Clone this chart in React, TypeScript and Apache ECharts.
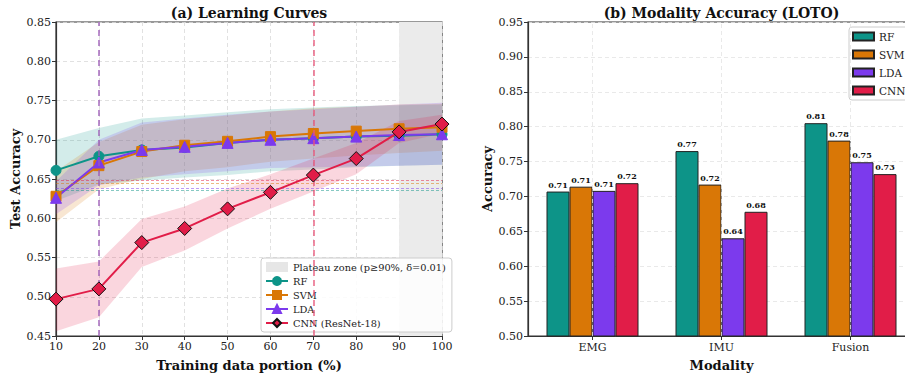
import React, { useEffect, useRef } from "react";
import * as echarts from "echarts";

const portions = ["10", "20", "30", "40", "50", "60", "70", "80", "90", "100"];
const rfMean = [0.661, 0.679, 0.687, 0.690, 0.696, 0.700, 0.702, 0.704, 0.705, 0.707];
const svmMean = [0.628, 0.667, 0.685, 0.693, 0.698, 0.704, 0.708, 0.711, 0.714, 0.716];
const ldaMean = [0.626, 0.671, 0.687, 0.691, 0.696, 0.700, 0.702, 0.704, 0.706, 0.707];
const cnnMean = [0.497, 0.510, 0.569, 0.587, 0.612, 0.633, 0.655, 0.676, 0.710, 0.720];

const rfLow = [0.622, 0.643, 0.648, 0.652, 0.655, 0.660, 0.662, 0.665, 0.667, 0.668];
const rfHigh = [0.700, 0.715, 0.727, 0.731, 0.735, 0.739, 0.741, 0.743, 0.744, 0.745];
const svmLow = [0.595, 0.637, 0.650, 0.660, 0.665, 0.672, 0.676, 0.680, 0.683, 0.686];
const svmHigh = [0.660, 0.697, 0.719, 0.726, 0.731, 0.736, 0.740, 0.742, 0.745, 0.746];
const ldaLow = [0.605, 0.642, 0.652, 0.656, 0.660, 0.664, 0.665, 0.666, 0.667, 0.668];
const ldaHigh = [0.647, 0.700, 0.722, 0.727, 0.732, 0.736, 0.739, 0.742, 0.745, 0.747];
const cnnLow = [0.456, 0.474, 0.538, 0.559, 0.587, 0.612, 0.634, 0.656, 0.696, 0.708];
const cnnHigh = [0.536, 0.545, 0.599, 0.615, 0.638, 0.656, 0.676, 0.696, 0.724, 0.732];

const thresholds = [0.636, 0.644, 0.638, 0.648]; // RF, SVM, LDA, CNN
const kneeLines = ["20", "70"];
const plateauRange = ["90", "100"];

const modalities = ["EMG", "IMU", "Fusion"];
const rfAcc = [0.707, 0.765, 0.805];
const svmAcc = [0.714, 0.717, 0.780];
const ldaAcc = [0.708, 0.640, 0.749];
const cnnAcc = [0.719, 0.678, 0.732];

const C_RF = "#0d9488";
const C_SVM = "#d97706";
const C_LDA = "#7c3aed";
const C_CNN = "#e11d48";
const FONT = "DejaVu Serif";
const PLATEAU = "Plateau zone (p≥90%, δ=0.01)";

const gridLine = { show: true, lineStyle: { color: "#d9d9d9", type: [4, 3] as any, width: 0.8 } };

function bandSeries(key: string, low: number[], high: number[], color: string) {
  return [
    {
      name: key + "_low",
      type: "line",
      stack: key,
      data: low,
      symbol: "none",
      lineStyle: { opacity: 0 },
      silent: true,
      z: 1,
    },
    {
      name: key + "_band",
      type: "line",
      stack: key,
      data: high.map((h, i) => +(h - low[i]).toFixed(4)),
      symbol: "none",
      lineStyle: { opacity: 0 },
      areaStyle: { color, opacity: 0.18 },
      silent: true,
      z: 1,
    },
  ];
}

function mainLine(name: string, data: number[], color: string, symbol: string, size: number, extra: any = {}) {
  return {
    name,
    type: "line",
    data,
    symbol,
    symbolSize: size,
    lineStyle: { color, width: 2 },
    itemStyle: { color, borderColor: color, borderWidth: 1 },
    z: 4,
    ...extra,
  };
}

const thrColors = [C_RF, C_SVM, C_LDA, C_CNN];

function LeftChart() {
  const ref = useRef<HTMLDivElement>(null);
  useEffect(() => {
    const chart = echarts.init(ref.current!, undefined, { renderer: "svg" });
    const first = portions[0];
    const last = portions[portions.length - 1];
    chart.setOption({
      animation: false,
      textStyle: { fontFamily: FONT },
      graphic: [
        {
          type: "text",
          x: 249,
          y: 13,
          style: {
            text: "(a) Learning Curves",
            textAlign: "center",
            textVerticalAlign: "middle",
            align: "center",
            verticalAlign: "middle",
            font: `bold 14px "${FONT}"`,
            fill: "#111",
          },
        },
      ],
      grid: {
        left: 56, width: 386, top: 22, height: 314, show: true, borderColor: "#333", borderWidth: 1.2,
        backgroundColor: "#fff", containLabel: false, outerBoundsMode: "none",
      },
      legend: {
        left: 261,
        top: 258,
        orient: "vertical",
        itemWidth: 22,
        itemHeight: 10,
        itemGap: 4,
        padding: [4, 6, 4, 4],
        backgroundColor: "rgba(255,255,255,0.85)",
        borderColor: "#cccccc",
        borderWidth: 1,
        borderRadius: 3,
        textStyle: { fontFamily: FONT, fontSize: 9.8, color: "#222" },
        data: [
          { name: PLATEAU, icon: "rect", itemStyle: { color: "#e6e6e6" } },
          "RF",
          "SVM",
          "LDA",
          "CNN (ResNet-18)",
        ],
      },
      xAxis: {
        type: "category",
        data: portions,
        boundaryGap: false,
        name: "Training data portion (%)",
        nameLocation: "middle",
        nameGap: 23,
        nameMoveOverlap: false,
        nameTextStyle: { fontFamily: FONT, fontSize: 13, fontWeight: "bold", color: "#111" },
        axisLine: { lineStyle: { color: "#333", width: 1.2 } },
        axisTick: { show: true, length: 4, lineStyle: { color: "#333" } },
        axisLabel: { fontFamily: FONT, fontSize: 11, color: "#222", margin: 5 },
        splitLine: gridLine,
      },
      yAxis: {
        type: "value",
        min: 0.45,
        max: 0.85,
        interval: 0.05,
        name: "Test Accuracy",
        nameLocation: "middle",
        nameGap: 34,
        nameMoveOverlap: false,
        nameTextStyle: { fontFamily: FONT, fontSize: 13, fontWeight: "bold", color: "#111" },
        axisLine: { show: true, lineStyle: { color: "#333", width: 1.2 } },
        axisTick: { show: true, length: 4, lineStyle: { color: "#333" } },
        axisLabel: { fontFamily: FONT, fontSize: 11, color: "#222", margin: 5, formatter: (v: number) => v.toFixed(2) },
        splitLine: gridLine,
      },
      series: [
        {
          name: PLATEAU,
          type: "line",
          data: portions.map(() => null),
          itemStyle: { color: "#e6e6e6" },
          symbol: "none",
          silent: true,
          z: 0,
          markArea: {
            silent: true,
            itemStyle: { color: "#ebebeb" },
            data: [[{ xAxis: plateauRange[0], yAxis: 0.45 }, { xAxis: plateauRange[1], yAxis: 0.85 }]],
          },
        },
        ...bandSeries("rf", rfLow, rfHigh, C_RF),
        ...bandSeries("svm", svmLow, svmHigh, C_SVM),
        ...bandSeries("lda", ldaLow, ldaHigh, C_LDA),
        ...bandSeries("cnn", cnnLow, cnnHigh, C_CNN),
        {
          name: "refLines",
          type: "line",
          data: portions.map(() => null),
          symbol: "none",
          silent: true,
          z: 2,
          markLine: {
            silent: true,
            symbol: "none",
            label: { show: false },
            data: [
              ...thresholds.map((t, i) => [
                { xAxis: first, yAxis: t, lineStyle: { color: thrColors[i], type: [3, 2], width: 1, opacity: 0.5 } },
                { xAxis: last, yAxis: t },
              ]),
              [
                { xAxis: kneeLines[0], yAxis: 0.45, lineStyle: { color: "#9b59b6", type: [6, 4], width: 1.5, opacity: 0.9 } },
                { xAxis: kneeLines[0], yAxis: 0.85 },
              ],
              [
                { xAxis: kneeLines[1], yAxis: 0.45, lineStyle: { color: "#e8557a", type: [6, 4], width: 1.5, opacity: 0.9 } },
                { xAxis: kneeLines[1], yAxis: 0.85 },
              ],
            ],
          },
        },
        mainLine("RF", rfMean, C_RF, "circle", 10),
        mainLine("SVM", svmMean, C_SVM, "rect", 10),
        mainLine("LDA", ldaMean, C_LDA, "triangle", 11),
        mainLine("CNN (ResNet-18)", cnnMean, C_CNN, "diamond", 14, {
          itemStyle: { color: C_CNN, borderColor: "#111", borderWidth: 1 },
          z: 5,
        }),
      ],
    });
    return () => chart.dispose();
  }, []);
  return <div ref={ref} style={{ position: "absolute", left: 0, top: 0, width: 455, height: 373 }} />;
}

function RightChart() {
  const ref = useRef<HTMLDivElement>(null);
  useEffect(() => {
    const chart = echarts.init(ref.current!, undefined, { renderer: "svg" });
    const label = {
      show: true,
      position: "top",
      distance: 3,
      fontFamily: FONT,
      fontSize: 8,
      fontWeight: "bold",
      color: "#111",
      formatter: (p: any) => (p.value as number).toFixed(2),
    };
    const bar = (name: string, data: number[], color: string) => ({
      name,
      type: "bar",
      data,
      barWidth: 23,
      barGap: "0%",
      itemStyle: { color, borderColor: "#222", borderWidth: 1 },
      label,
      z: 3,
    });
    chart.setOption({
      animation: false,
      textStyle: { fontFamily: FONT },
      graphic: [
        {
          type: "text",
          x: 721.5 - 455,
          y: 13,
          style: {
            text: "(b) Modality Accuracy (LOTO)",
            textAlign: "center",
            textVerticalAlign: "middle",
            align: "center",
            verticalAlign: "middle",
            font: `bold 14px "${FONT}"`,
            fill: "#111",
          },
        },
      ],
      grid: {
        left: 73, width: 387, top: 22, height: 314, show: true, borderColor: "#333", borderWidth: 1.2,
        backgroundColor: "#fff", containLabel: false, outerBoundsMode: "none",
      },
      legend: {
        left: 394,
        top: 27,
        orient: "vertical",
        itemWidth: 21,
        itemHeight: 8,
        itemGap: 7,
        padding: [4, 6, 4, 3],
        backgroundColor: "rgba(255,255,255,0.85)",
        borderColor: "#cccccc",
        borderWidth: 1,
        borderRadius: 3,
        icon: "rect",
        textStyle: { fontFamily: FONT, fontSize: 10.5, color: "#222" },
        data: ["RF", "SVM", "LDA", "CNN"],
      },
      xAxis: {
        type: "category",
        data: modalities,
        name: "Modality",
        nameLocation: "middle",
        nameGap: 23,
        nameMoveOverlap: false,
        nameTextStyle: { fontFamily: FONT, fontSize: 13, fontWeight: "bold", color: "#111" },
        axisLine: { lineStyle: { color: "#333", width: 1.2 } },
        axisTick: { show: true, alignWithLabel: true, length: 4, lineStyle: { color: "#333" } },
        axisLabel: { fontFamily: FONT, fontSize: 11, color: "#222", margin: 6 },
        splitLine: { show: false },
      },
      yAxis: {
        type: "value",
        min: 0.5,
        max: 0.95,
        interval: 0.05,
        name: "Accuracy",
        nameLocation: "middle",
        nameGap: 34,
        nameMoveOverlap: false,
        nameTextStyle: { fontFamily: FONT, fontSize: 13, fontWeight: "bold", color: "#111" },
        axisLine: { show: true, lineStyle: { color: "#333", width: 1.2 } },
        axisTick: { show: true, length: 4, lineStyle: { color: "#333" } },
        axisLabel: { fontFamily: FONT, fontSize: 11, color: "#222", margin: 5, formatter: (v: number) => v.toFixed(2) },
        splitLine: { show: true, lineStyle: { color: "#e3e3e3", type: [4, 3], width: 0.8 } },
      },
      series: [
        {
          name: "vgrid",
          type: "line",
          data: modalities.map(() => null),
          symbol: "none",
          silent: true,
          z: 0,
          markLine: {
            silent: true,
            symbol: "none",
            label: { show: false },
            lineStyle: { color: "#e3e3e3", type: [4, 3], width: 0.8 },
            data: modalities.map((m) => [{ xAxis: m, yAxis: 0.5 }, { xAxis: m, yAxis: 0.95 }]),
          },
        },
        bar("RF", rfAcc, C_RF),
        bar("SVM", svmAcc, C_SVM),
        bar("LDA", ldaAcc, C_LDA),
        bar("CNN", cnnAcc, C_CNN),
      ],
    });
    return () => chart.dispose();
  }, []);
  return <div ref={ref} style={{ position: "absolute", left: 455, top: 0, width: 480, height: 373 }} />;
}

export default function App() {
  useEffect(() => {
    document.body.style.margin = "0";
    document.body.style.overflow = "hidden";
  }, []);
  return (
    <div style={{ position: "fixed", left: 0, top: 0, width: 905, height: 373, overflow: "hidden", background: "#fff" }}>
      <LeftChart />
      <RightChart />
    </div>
  );
}
